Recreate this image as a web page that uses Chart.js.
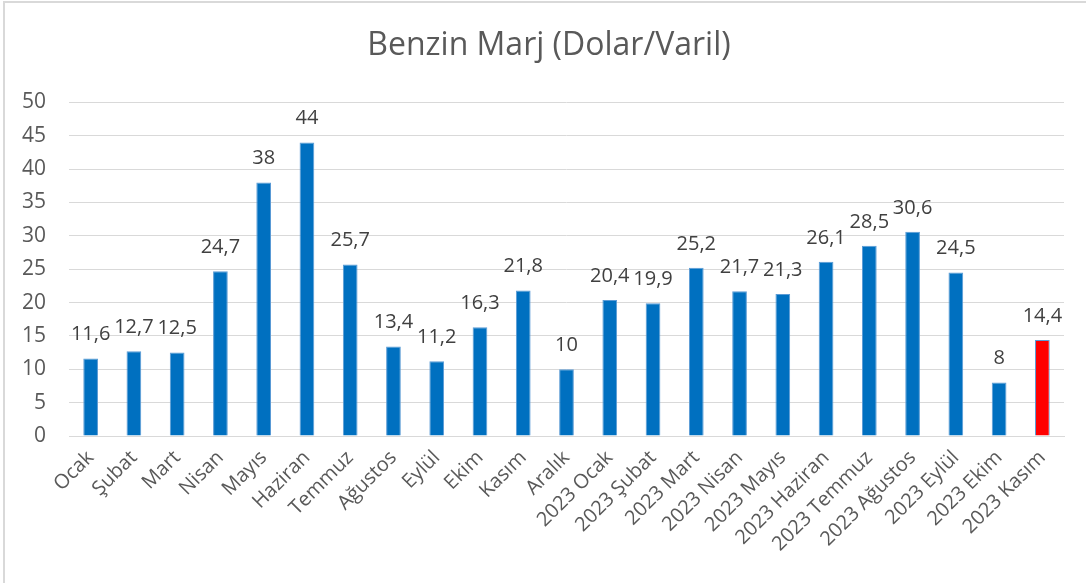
<!DOCTYPE html>
<html lang="tr">
<head>
    <meta charset="UTF-8">
    <title>Benzin Marj (Dolar/Varil)</title>
    <style>
        html, body {
            margin: 0;
            padding: 0;
            background: #ffffff;
        }
        #wrap {
            position: relative;
            width: 1086px;
            height: 583px;
        }
    </style>
    <script src="https://cdn.jsdelivr.net/npm/chart.js"></script>
</head>
<body>
    <div id="wrap"><canvas id="chart" width="1086" height="583"></canvas></div>

    <script>
        const aylar = [
            'Ocak', 'Şubat', 'Mart', 'Nisan', 'Mayıs', 'Haziran', 'Temmuz', 'Ağustos',
            'Eylül', 'Ekim', 'Kasım', 'Aralık', '2023 Ocak', '2023 Şubat', '2023 Mart',
            '2023 Nisan', '2023 Mayıs', '2023 Haziran', '2023 Temmuz', '2023 Ağustos',
            '2023 Eylül', '2023 Ekim', '2023 Kasım'
        ];
        const marj = [11.6, 12.7, 12.5, 24.7, 38, 44, 25.7, 13.4, 11.2, 16.3, 21.8, 10,
                      20.4, 19.9, 25.2, 21.7, 21.3, 26.1, 28.5, 30.6, 24.5, 8, 14.4];
        const yTicks = [0, 5, 10, 15, 20, 25, 30, 35, 40, 45, 50];

        const fontFamily = '"Open Sans", "Noto Sans", sans-serif';

        // son ay kırmızı
        const barColors = marj.map((v, i) => i === marj.length - 1 ? '#ff0000' : '#0070c0');

        // çerçeve + başlığı biraz sağa kaydır
        const framePlugin = {
            id: 'frame',
            afterLayout(chart) {
                if (chart.titleBlock) chart.titleBlock.left = 34;
            },
            beforeDraw(chart) {
                const ctx = chart.ctx;
                ctx.save();
                ctx.strokeStyle = '#d9d9d9';
                ctx.lineWidth = 2;
                ctx.strokeRect(4, 2, 1100, 600);
                ctx.restore();
            }
        };

        // değer etiketleri (virgüllü)
        const valueLabels = {
            id: 'valueLabels',
            afterDatasetsDraw(chart) {
                const ctx = chart.ctx;
                const meta = chart.getDatasetMeta(0);
                ctx.save();
                ctx.font = '20px ' + fontFamily;
                ctx.fillStyle = '#404040';
                ctx.textAlign = 'center';
                ctx.textBaseline = 'middle';
                meta.data.forEach((bar, i) => {
                    const txt = String(marj[i]).replace('.', ',');
                    ctx.fillText(txt, bar.x, bar.y - 24);
                });
                ctx.restore();
            }
        };

        new Chart(document.getElementById('chart'), {
            type: 'bar',
            data: {
                labels: aylar,
                datasets: [{
                    data: marj,
                    backgroundColor: barColors,
                    borderColor: '#5b9bd5',
                    borderWidth: 1,
                    categoryPercentage: 1,
                    barPercentage: 0.34
                }]
            },
            options: {
                responsive: false,
                animation: false,
                layout: {
                    padding: { left: 0, right: 22, top: 0, bottom: 0 }
                },
                plugins: {
                    legend: { display: false },
                    tooltip: { enabled: false },
                    title: {
                        display: true,
                        text: 'Benzin Marj (Dolar/Varil)',
                        color: '#595959',
                        font: { family: fontFamily, size: 32, weight: 'normal' },
                        padding: { top: 27, bottom: 37 }
                    }
                },
                scales: {
                    x: {
                        grid: { display: false },
                        border: { color: '#d9d9d9', width: 1 },
                        ticks: {
                            color: '#595959',
                            font: { family: fontFamily, size: 20 },
                            minRotation: 45,
                            maxRotation: 45,
                            autoSkip: false,
                            padding: 2
                        },
                        afterFit(scale) { scale.height = 147; }
                    },
                    y: {
                        min: 0,
                        max: 50,
                        afterBuildTicks(scale) {
                            scale.ticks = yTicks.map(v => ({ value: v }));
                        },
                        grid: { color: '#d9d9d9', lineWidth: 1, drawTicks: false },
                        border: { display: false },
                        ticks: {
                            color: '#595959',
                            font: { family: fontFamily, size: 21 },
                            padding: 23
                        },
                        afterFit(scale) { scale.width = 69; }
                    }
                }
            },
            plugins: [framePlugin, valueLabels]
        });
    </script>
</body>
</html>
